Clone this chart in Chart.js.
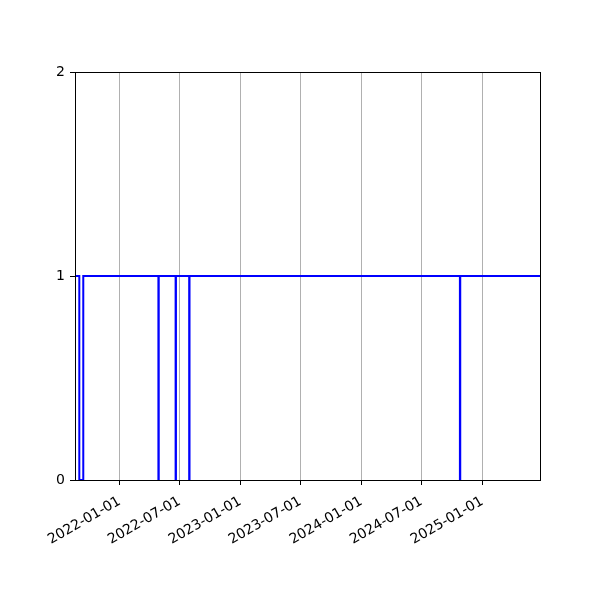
<!DOCTYPE html>
<html>
<head>
<meta charset="utf-8">
<script src="https://cdn.jsdelivr.net/npm/chart.js@4/dist/chart.umd.min.js"></script>
<style>
  body { margin: 0; background: #fff; }
  #wrap { width: 600px; height: 600px; }
</style>
</head>
<body>
<div id="wrap"><canvas id="c"></canvas></div>
<script>
// transition dates of the on/off state (value holds until the next date)
const dates = [
  '2021-08-19', '2021-09-01', '2021-09-13',
  '2022-04-28', '2022-04-29',
  '2022-06-19', '2022-06-20',
  '2022-07-30', '2022-07-31',
  '2024-10-25', '2024-10-26',
  '2025-06-24'
];
const values = [1, 0, 1, 0, 1, 0, 1, 0, 1, 0, 1, 1];

const tickDates = [
  '2022-01-01', '2022-07-01', '2023-01-01', '2023-07-01',
  '2024-01-01', '2024-07-01', '2025-01-01'
];
const yTicks = [0, 1, 2];

const ms = d => Date.parse(d + 'T00:00:00Z');

const frame = {
  id: 'frame',
  afterDraw(chart) {
    const a = chart.chartArea, ctx = chart.ctx;
    ctx.save();
    ctx.strokeStyle = '#000';
    ctx.lineWidth = 1;
    ctx.strokeRect(Math.round(a.left) + 0.5, Math.round(a.top) + 0.5,
                   Math.round(a.right - a.left), Math.round(a.bottom - a.top));
    ctx.restore();
  }
};

new Chart(document.getElementById('c'), {
  type: 'line',
  data: {
    datasets: [{
      data: dates.map((d, i) => ({ x: ms(d), y: values[i] })),
      borderColor: '#0000ff',
      borderWidth: 2,
      pointRadius: 0,
      stepped: 'before',
      fill: false
    }]
  },
  options: {
    animation: false,
    responsive: true,
    maintainAspectRatio: false,
    devicePixelRatio: 1,
    layout: { padding: { top: 72, right: 60, left: 0, bottom: 0 } },
    plugins: { legend: { display: false }, tooltip: { enabled: false } },
    scales: {
      x: {
        type: 'linear',
        min: ms(dates[0]),
        max: ms(dates[dates.length - 1]),
        afterBuildTicks: s => { s.ticks = tickDates.map(d => ({ value: ms(d) })); },
        afterFit: s => { s.height = 120; },
        ticks: {
          autoSkip: false,
          minRotation: 30,
          maxRotation: 30,
          color: '#000',
          padding: 8,
          font: { family: 'DejaVu Sans', size: 14 },
          callback: v => new Date(v).toISOString().slice(0, 10)
        },
        grid: { color: '#b0b0b0', lineWidth: 1, tickColor: '#000', tickLength: 5 },
        border: { color: '#000', width: 1 }
      },
      y: {
        min: 0,
        max: 2,
        afterBuildTicks: s => { s.ticks = yTicks.map(v => ({ value: v })); },
        afterFit: s => { s.width = 75; },
        ticks: {
          color: '#000',
          padding: 5,
          font: { family: 'DejaVu Sans', size: 14 }
        },
        grid: { drawOnChartArea: false, tickColor: '#000', tickLength: 5 },
        border: { color: '#000', width: 1 }
      }
    }
  },
  plugins: [frame]
});
</script>
</body>
</html>
